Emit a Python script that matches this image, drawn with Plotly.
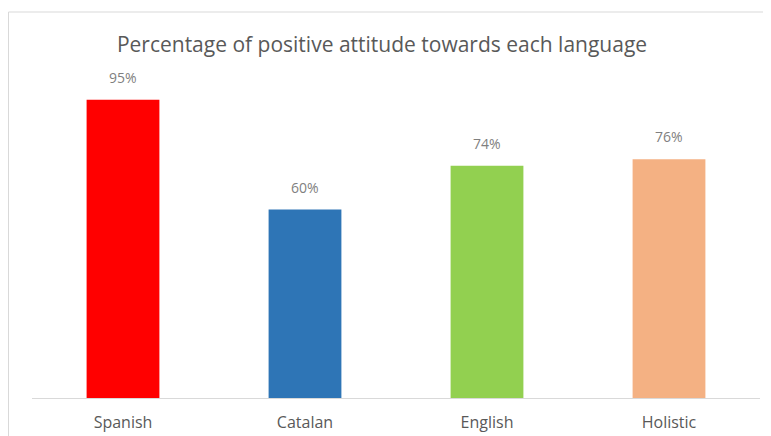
import plotly.graph_objects as go

categories = ["Spanish", "Catalan", "English", "Holistic"]
values = [95, 60, 74, 76]
labels = ["95%", "60%", "74%", "76%"]
colors = ["#ff0000", "#2e75b6", "#92d050", "#f4b183"]

fig = go.Figure(go.Bar(
    x=categories, y=values, marker=dict(color=colors, line=dict(width=0)),
))

for c, v, t in zip(categories, values, labels):
    fig.add_annotation(x=c, y=v, text=t, showarrow=False, yanchor="bottom",
                       yshift=11, font=dict(family="Open Sans", size=14, color="#7f7f7f"))

OFF = 8  # browser body margin
W, H = 771 - OFF, 436 - OFF
L, R, T, B = 32 - OFF, 11, 84 - OFF, 38
pw, ph = W - L - R, H - T - B

def px(x):
    return (x - OFF - L) / pw

def py(y):
    return (H - B - (y - OFF)) / ph

fig.add_shape(type="rect", xref="paper", yref="paper",
              x0=px(8.5), x1=px(800), y0=py(12), y1=py(470),
              line=dict(color="#d9d9d9", width=1), fillcolor="rgba(0,0,0,0)", layer="below")

fig.update_layout(
    width=W, height=H, margin=dict(l=L, r=R, t=T, b=B, autoexpand=False),
    paper_bgcolor="white", plot_bgcolor="white",
    bargap=0.6, showlegend=False,
    title=dict(text="Percentage of positive attitude towards each language",
               x=px(382), xref="paper", xanchor="center",
               y=1 - (45 - OFF) / H, yanchor="middle",
               font=dict(family="Open Sans", size=21, color="#595959")),
    xaxis=dict(showline=True, linecolor="#d9d9d9", linewidth=1, ticks="",
               tickfont=dict(family="Open Sans", size=16, color="#595959"),
               showgrid=False, ticklabelstandoff=10, automargin=False),
    yaxis=dict(range=[0, 100], visible=False, showgrid=False, automargin=False),
)

fig.write_html("out.html")
